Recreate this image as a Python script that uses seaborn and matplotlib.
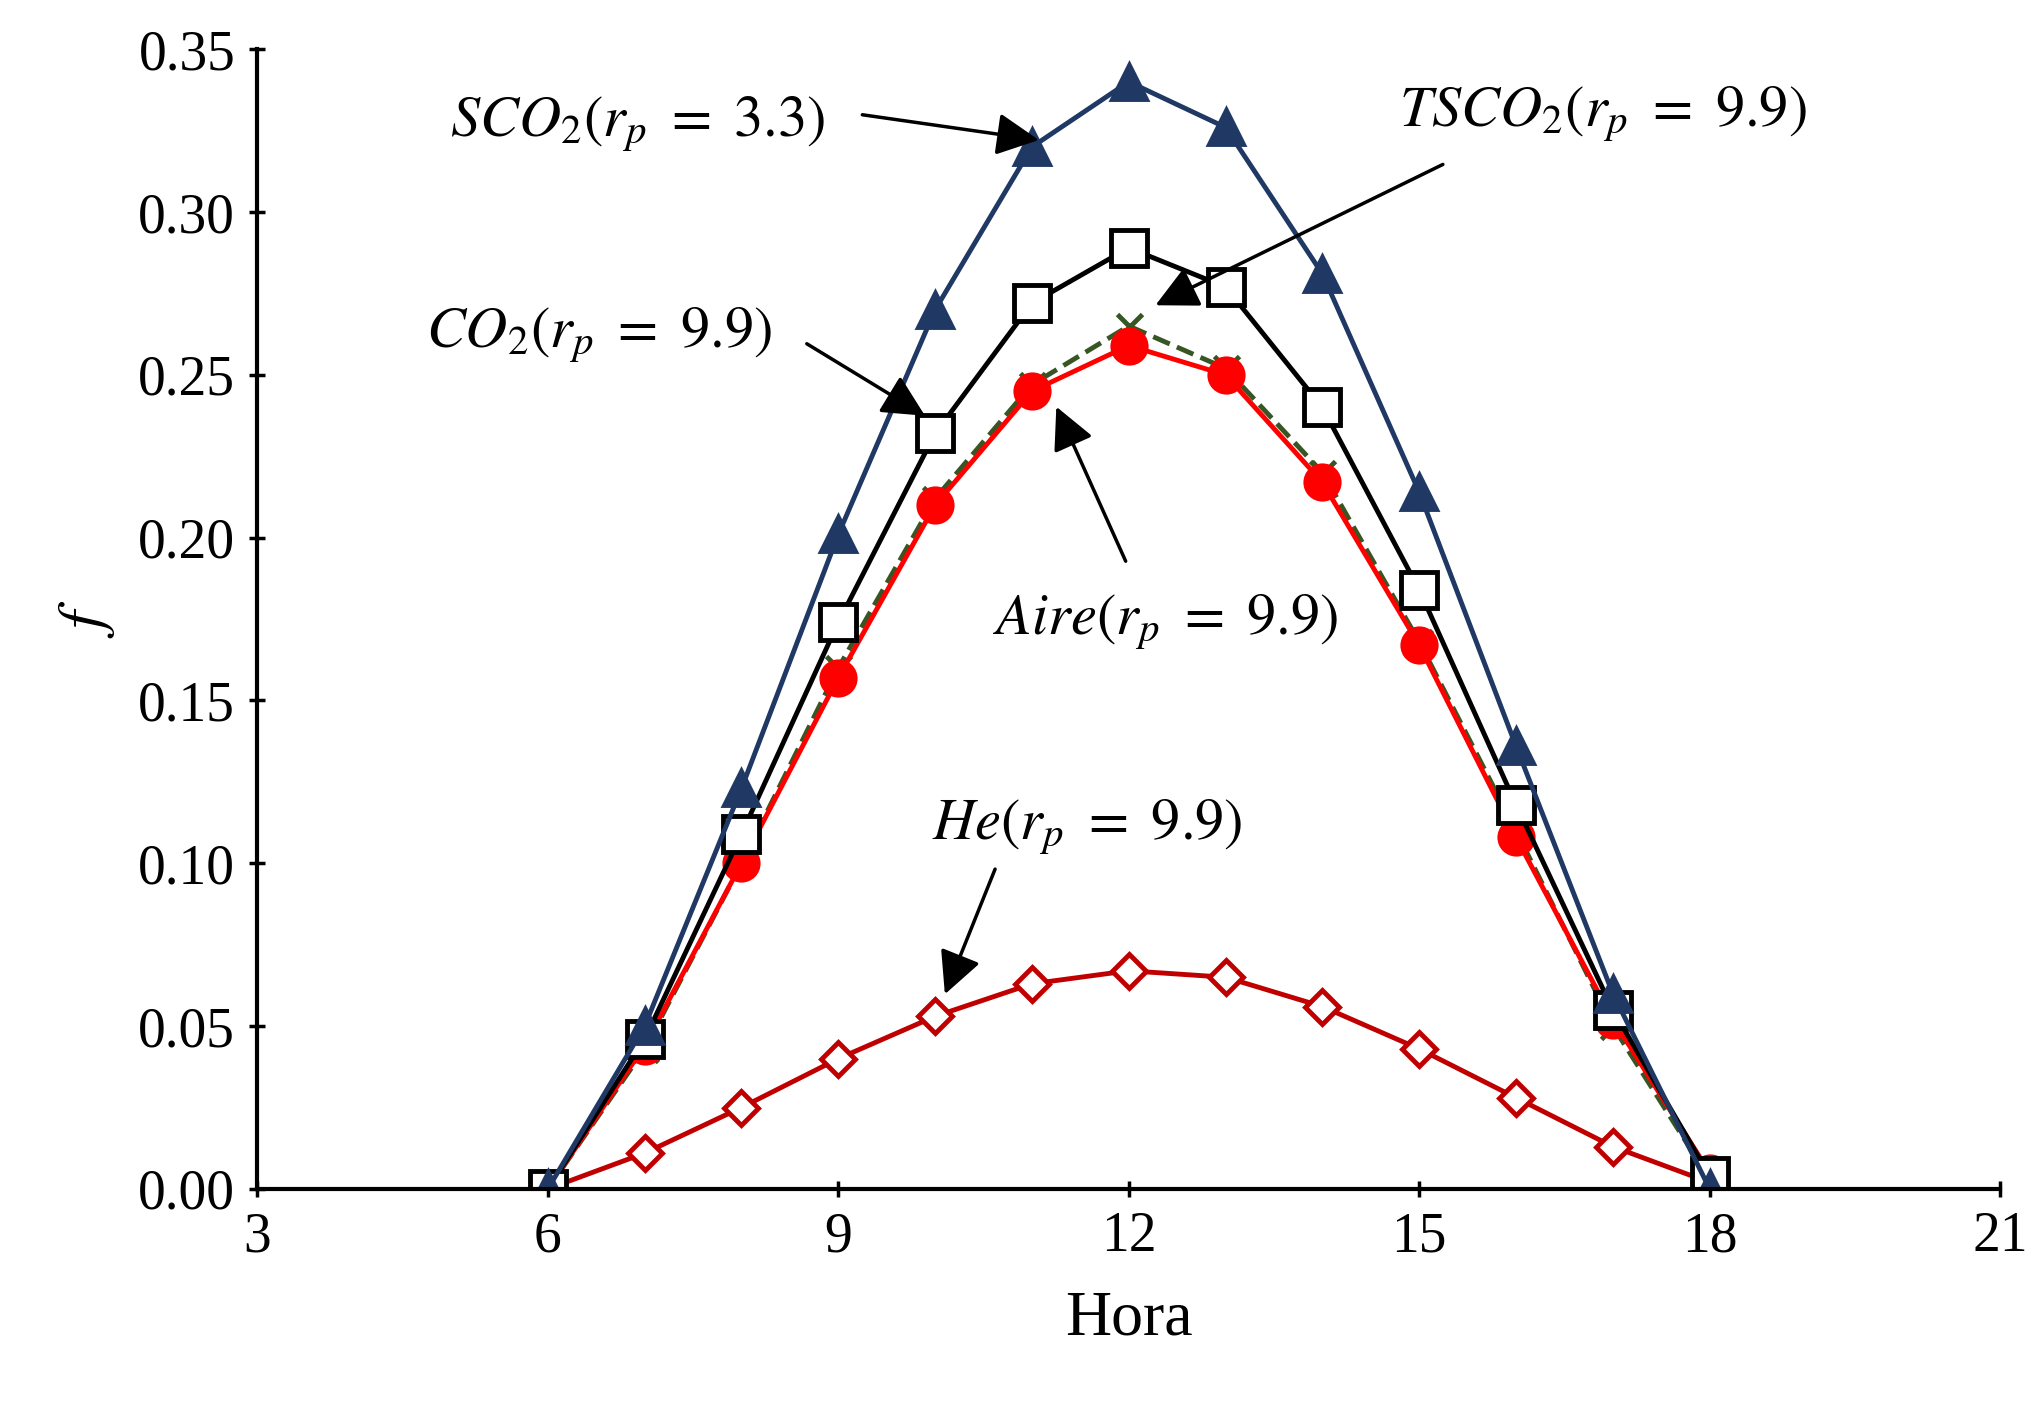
import numpy as np
import pandas as pd
import matplotlib
matplotlib.use("Agg")
import matplotlib.pyplot as plt
import seaborn as sns

sns.set_style("white")
plt.rcParams['font.family'] = ['Liberation Serif', 'DejaVu Serif']
plt.rcParams['mathtext.fontset'] = 'stix'
plt.rcParams['text.color'] = 'black'
plt.rcParams['xtick.color'] = 'black'
plt.rcParams['ytick.color'] = 'black'
plt.rcParams['axes.labelcolor'] = 'black'

hora = [6, 7, 8, 9, 10, 11, 12, 13, 14, 15, 16, 17, 18]
sco2 = [0, 0.050, 0.123, 0.201, 0.270, 0.320, 0.340, 0.326, 0.281, 0.214, 0.136, 0.060, 0.0]
tsco2 = [0, 0.046, 0.109, 0.174, 0.232, 0.272, 0.289, 0.277, 0.240, 0.184, 0.118, 0.055, 0.004]
aire = [0, 0.044, 0.100, 0.157, 0.210, 0.245, 0.259, 0.250, 0.217, 0.167, 0.108, 0.052, 0.005]
co2 = [0, 0.043, 0.100, 0.160, 0.212, 0.247, 0.265, 0.252, 0.220, 0.168, 0.110, 0.050, 0.003]
he = [0, 0.011, 0.025, 0.040, 0.053, 0.063, 0.067, 0.065, 0.056, 0.043, 0.028, 0.013, 0.002]

fig = plt.figure(figsize=(20.43, 14.07), dpi=100)
ax = fig.add_axes([0.126, 0.155, 0.853, 0.81])

# series: values, line colour, linestyle, marker, face, size
series = [
    (he, '#C00000', '-', 'D', 'white', 17),
    (co2, '#375623', '--', 'x', 'none', 18),
    (aire, '#FF0000', '-', 'o', '#FF0000', 24),
    (tsco2, 'black', '-', 's', 'white', 26),
    (sco2, '#1F3864', '-', '^', '#1F3864', 24),
]
for vals, col, ls, mk, face, ms in series:
    df = pd.DataFrame({'Hora': hora, 'f': vals})
    sns.lineplot(data=df, x='Hora', y='f', ax=ax, color=col, linestyle=ls, lw=3.5,
                 marker=mk, markersize=ms, markerfacecolor=face,
                 markeredgecolor=col, markeredgewidth=3.5)

ax.set_xlim(3, 21)
ax.set_ylim(0, 0.35)
ax.set_xticks([3, 6, 9, 12, 15, 18, 21])
ax.set_yticks(np.arange(0, 0.351, 0.05))
ax.yaxis.set_major_formatter(matplotlib.ticker.FormatStrFormatter('%.2f'))
ax.tick_params(labelsize=40, direction='inout', length=12, width=2.5, left=True, bottom=True, pad=10)
for s in ['top', 'right']:
    ax.spines[s].set_visible(False)
for s in ['left', 'bottom']:
    ax.spines[s].set_linewidth(3)
    ax.spines[s].set_color('black')
ax.set_xlabel('Hora', fontsize=46, labelpad=20)
ax.set_ylabel(r'$f$', fontsize=46, labelpad=15)

arrow = dict(arrowstyle='-|>', color='black', lw=2.5, mutation_scale=65)
notes = [
    (r'$SCO_2(r_p\ =\ 3.3)$', (6.93, 0.327), (9.22, 0.330), (11.1, 0.322)),
    (r'$TSCO_2(r_p\ =\ 9.9)$', (16.9, 0.330), (15.27, 0.315), (12.25, 0.271)),
    (r'$CO_2(r_p\ =\ 9.9)$', (6.53, 0.262), (8.65, 0.260), (9.92, 0.237)),
    (r'$Aire(r_p\ =\ 9.9)$', (12.38, 0.174), (11.98, 0.192), (11.24, 0.241)),
    (r'$He(r_p\ =\ 9.9)$', (11.57, 0.111), (10.63, 0.099), (10.09, 0.059)),
]
for txt, tpos, start, end in notes:
    ax.text(*tpos, txt, fontsize=42, ha='center', va='center')
    ax.annotate('', xy=end, xytext=start, arrowprops=arrow)

fig.savefig('out.png', dpi=100)
